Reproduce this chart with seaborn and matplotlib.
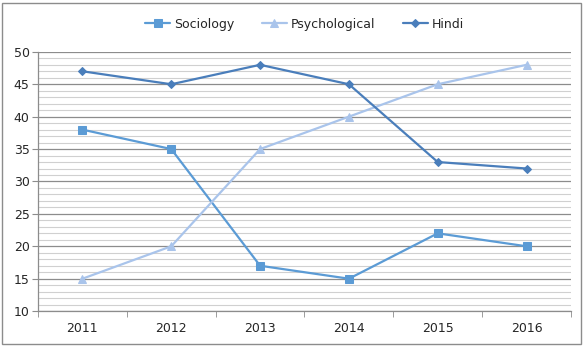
import matplotlib
matplotlib.use("Agg")
import matplotlib.pyplot as plt
import seaborn as sns
import pandas as pd
import numpy as np
from matplotlib.patches import Rectangle

years = ["2011", "2012", "2013", "2014", "2015", "2016"]
sociology = [38, 35, 17, 15, 22, 20]
psychological = [15, 20, 35, 40, 45, 48]
hindi = [47, 45, 48, 45, 33, 32]

series_names = ["Sociology", "Psychological", "Hindi"]
colors = ["#5B9BD5", "#A9C4EB", "#4A7EBB"]
markers = ["s", "^", "D"]
marker_sizes = [5.5, 5.5, 4]

df = pd.DataFrame({
    "year": years * 3,
    "value": sociology + psychological + hindi,
    "series": [s for s in series_names for _ in years],
})
df["pos"] = df["year"].map({y: i for i, y in enumerate(years)})

sns.set_style("white")
plt.rcParams["font.family"] = ["DejaVu Sans"]

fig = plt.figure(figsize=(5.85, 3.48), dpi=100)
ax = fig.add_axes([0.065, 0.106, 0.911, 0.745])

# minor and major horizontal grid lines
for v in range(10, 51):
    if v % 5 == 0:
        ax.axhline(v, color="#8c8c8c", lw=0.9, zorder=0)
    else:
        ax.axhline(v, color="#d0d0d0", lw=0.8, zorder=0)

for name, c, m, ms in zip(series_names, colors, markers, marker_sizes):
    sub = df[df["series"] == name]
    sns.lineplot(data=sub, x="pos", y="value", ax=ax, color=c, lw=1.6,
                 marker=m, markersize=ms, markeredgecolor=c, label=name,
                 zorder=3)

ax.set_xlim(-0.5, len(years) - 0.5)
ax.set_ylim(10, 50)
ax.set_yticks(range(10, 51, 5))
ax.set_xticks(range(len(years)))
ax.set_xticklabels(years)
ax.set_xticks(np.arange(-0.5, len(years)), minor=True)
ax.tick_params(axis="x", which="major", length=0, pad=8, labelsize=9)
ax.tick_params(axis="x", which="minor", length=4, color="#8c8c8c", direction="out", bottom=True)
ax.tick_params(axis="y", length=4, color="#8c8c8c", direction="out", left=True, labelsize=9, pad=2)
ax.set_xlabel("")
ax.set_ylabel("")
for s in ["top", "right"]:
    ax.spines[s].set_visible(False)
for s in ["left", "bottom"]:
    ax.spines[s].set_color("#8c8c8c")
    ax.spines[s].set_linewidth(0.9)

leg = ax.legend(loc="upper center", bbox_to_anchor=(0.5, 1.175), ncol=3, frameon=False,
                fontsize=9, handlelength=2.0, columnspacing=2.2, handletextpad=0.3)

fig.patches.append(Rectangle((0.004, 0.012), 0.99, 0.98, transform=fig.transFigure,
                             fill=False, edgecolor="#8c8c8c", lw=1))

fig.savefig("out.png", dpi=100)
